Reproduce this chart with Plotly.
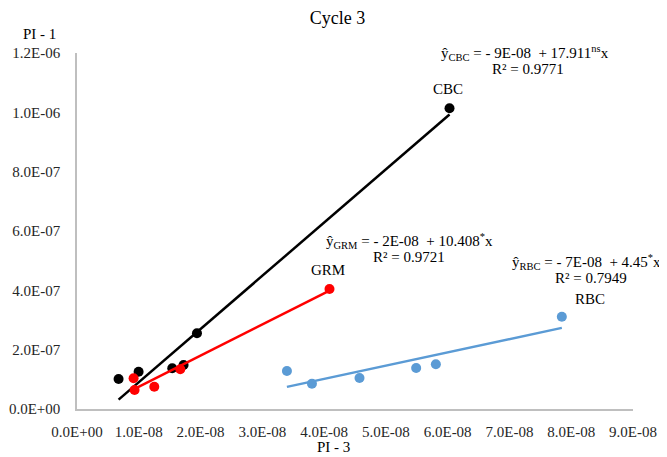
import numpy as np
import plotly.graph_objects as go

# ---- data ----
cbc_x = [6.73e-9, 9.97e-9, 1.542e-8, 1.725e-8, 1.942e-8, 6.03e-8]
cbc_y = [1.011e-7, 1.257e-7, 1.372e-7, 1.483e-7, 2.552e-7, 1.0137e-6]

grm_x = [9.16e-9, 9.32e-9, 1.251e-8, 1.672e-8, 4.087e-8]
grm_y = [1.035e-7, 6.40e-8, 7.52e-8, 1.338e-7, 4.045e-7]

rbc_x = [3.398e-8, 3.803e-8, 4.573e-8, 5.490e-8, 5.809e-8, 7.848e-8]
rbc_y = [1.281e-7, 8.53e-8, 1.045e-7, 1.382e-7, 1.507e-7, 3.112e-7]

x_ticks = [0, 1e-8, 2e-8, 3e-8, 4e-8, 5e-8, 6e-8, 7e-8, 8e-8, 9e-8]
x_tick_labels = ["0.0E+00", "1.0E-08", "2.0E-08", "3.0E-08", "4.0E-08",
                 "5.0E-08", "6.0E-08", "7.0E-08", "8.0E-08", "9.0E-08"]
y_ticks = [0, 2e-7, 4e-7, 6e-7, 8e-7, 1e-6, 1.2e-6]
y_tick_labels = ["0.0E+00", "2.0E-07", "4.0E-07", "6.0E-07", "8.0E-07",
                 "1.0E-06", "1.2E-06"]

FONT = "Liberation Serif"
series = [
    ("CBC", cbc_x, cbc_y, "#000000"),
    ("GRM", grm_x, grm_y, "#FF0000"),
    ("RBC", rbc_x, rbc_y, "#5B9BD5"),
]

fig = go.Figure()
for name, xs, ys, col in series:
    xs_a = np.array(xs)
    ys_a = np.array(ys)
    slope, icpt = np.polyfit(xs_a, ys_a, 1)
    xl = np.array([xs_a.min(), xs_a.max()])
    fig.add_trace(go.Scatter(x=xl, y=icpt + slope * xl, mode="lines",
                             line=dict(color=col, width=2.5),
                             showlegend=False, hoverinfo="skip"))
    fig.add_trace(go.Scatter(x=xs, y=ys, mode="markers",
                             marker=dict(color=col, size=10),
                             name=name, showlegend=False))

ann_font = dict(family=FONT, size=15, color="#000000")
annots = [
    (7.25e-8, 1.200e-6, "ŷ<sub>CBC</sub> = - 9E-08  + 17.911<sup>ns</sup>x"),
    (7.30e-8, 1.146e-6, "R² = 0.9771"),
    (6.01e-8, 1.079e-6, "CBC"),
    (5.39e-8, 5.66e-7, "ŷ<sub>GRM</sub> = - 2E-08  + 10.408<sup>*</sup>x"),
    (5.38e-8, 5.12e-7, "R² = 0.9721"),
    (4.07e-8, 4.69e-7, "GRM"),
    (8.25e-8, 4.96e-7, "ŷ<sub>RBC</sub> = - 7E-08  + 4.45<sup>*</sup>x"),
    (8.32e-8, 4.42e-7, "R² = 0.7949"),
    (8.31e-8, 3.71e-7, "RBC"),
]
for ax, ay, txt in annots:
    fig.add_annotation(x=ax, y=ay, xref="x", yref="y", text=txt,
                       showarrow=False, font=ann_font,
                       xanchor="center", yanchor="middle")

fig.add_annotation(x=-0.068, y=1.053, xref="paper", yref="paper",
                   text="PI - 1", showarrow=False,
                   font=dict(family=FONT, size=15, color="#000000"),
                   xanchor="center", yanchor="middle")
fig.add_annotation(x=0.461, y=-0.107, xref="paper", yref="paper",
                   text="PI - 3", showarrow=False,
                   font=dict(family=FONT, size=15, color="#000000"),
                   xanchor="center", yanchor="middle")

# the page body adds an 8px offset; size the figure to fill the rest
fig.update_layout(
    width=659, height=449,
    margin=dict(l=69, r=34, t=45, b=48, autoexpand=False),
    paper_bgcolor="white", plot_bgcolor="white",
    showlegend=False,
    title=dict(text="Cycle 3", x=0.5, xanchor="center", y=0.979,
               yanchor="middle", yref="container",
               font=dict(family=FONT, size=18, color="#000000")),
    xaxis=dict(range=[0, 9e-8], tickvals=x_ticks, ticktext=x_tick_labels,
               showgrid=False, zeroline=False, showline=True,
               linecolor="#BFBFBF", linewidth=1.5, ticks="",
               ticklabelstandoff=8, automargin=False,
               tickfont=dict(family=FONT, size=15, color="#262626")),
    yaxis=dict(range=[0, 1.2e-6], tickvals=y_ticks, ticktext=y_tick_labels,
               showgrid=False, zeroline=False, showline=True,
               linecolor="#BFBFBF", linewidth=1.5, ticks="",
               ticklabelstandoff=12, automargin=False,
               tickfont=dict(family=FONT, size=15, color="#262626")),
)

fig.write_html("out.html")
